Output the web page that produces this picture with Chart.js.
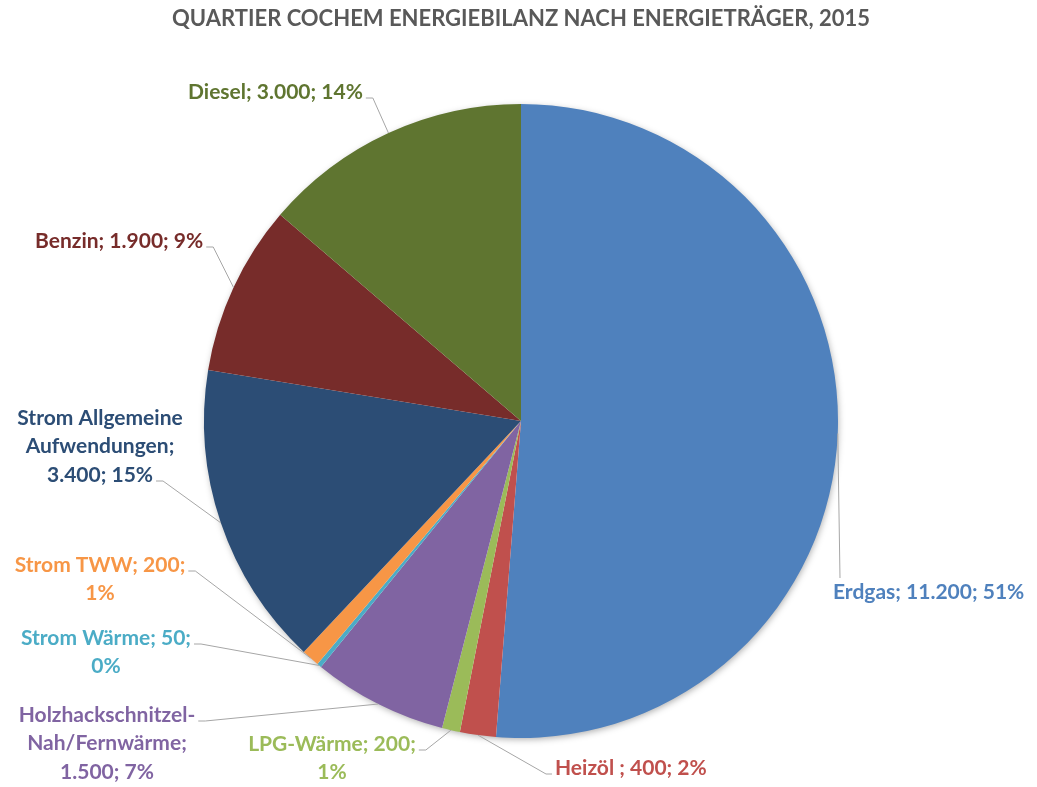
<!DOCTYPE html>
<html>
<head>
  <title>Quartier Cochem Energiebilanz 2015</title>
  <script src="https://cdn.jsdelivr.net/npm/chart.js"></script>
  <style>
    html, body { margin: 0; padding: 0; background: #ffffff; }
  </style>
</head>
<body>
  <canvas id="pieChart" width="1037" height="787"></canvas>

  <script>
    // Energieträger, im Uhrzeigersinn ab 12 Uhr
    const categories = [
      "Erdgas", "Heizöl ", "LPG-Wärme", "Holzhackschnitzel-Nah/Fernwärme",
      "Strom Wärme", "Strom TWW", "Strom Allgemeine Aufwendungen", "Benzin", "Diesel"
    ];
    const values = [11200, 400, 200, 1500, 50, 200, 3400, 1900, 3000];
    const percentLabels = [51, 2, 1, 7, 0, 1, 15, 9, 14];
    const colors = [
      "#4f81bd", "#c0504d", "#9bbb59", "#8064a2",
      "#4bacc6", "#f79646", "#2c4d75", "#772c2a", "#5f7530"
    ];

    // Position der Datenbeschriftungen (x/y = erste Zeile), Umbruch nach den genannten Stellen
    const labelLayout = [
      { x: 833, y: 592, align: "left",   attach: "top",   line: 0, breaks: [] },
      { x: 555, y: 768, align: "left",   attach: "left",  line: 0, breaks: [] },
      { x: 332, y: 744, align: "center", attach: "right", line: 0, breaks: ["200;"] },
      { x: 107, y: 715, align: "center", attach: "right", line: 0, breaks: ["schnitzel-", "wärme;"] },
      { x: 106, y: 638, align: "center", attach: "right", line: 0, breaks: ["50;"] },
      { x: 100, y: 565, align: "center", attach: "right", line: 0, breaks: ["200;"] },
      { x: 100, y: 418, align: "center", attach: "right", line: 2, breaks: ["Allgemeine", "Aufwendungen;"] },
      { x: 35,  y: 241, align: "left",   attach: "right", line: 0, breaks: [] },
      { x: 188, y: 92,  align: "left",   attach: "right", line: 0, breaks: [] }
    ];

    const labelFont = "bold 21px Lato";
    const lineHeight = 28.5;

    function formatDe(n) {
      return String(n).replace(/\B(?=(\d{3})+(?!\d))/g, ".");
    }

    function splitLines(text, breaks) {
      const lines = [];
      let rest = text;
      breaks.forEach(b => {
        const k = rest.indexOf(b);
        if (k >= 0) {
          lines.push(rest.slice(0, k + b.length).trim());
          rest = rest.slice(k + b.length);
        }
      });
      lines.push(rest.trim());
      return lines;
    }

    // weicher Schatten unter dem Kreis
    const pieShadow = {
      id: "pieShadow",
      beforeDatasetsDraw(chart) {
        const arc = chart.getDatasetMeta(0).data[0];
        if (!arc) return;
        const { x, y, outerRadius } = arc.getProps(["x", "y", "outerRadius"], true);
        const ctx = chart.ctx;
        ctx.save();
        ctx.shadowColor = "rgba(0,0,0,0.35)";
        ctx.shadowBlur = 7;
        ctx.shadowOffsetX = 1;
        ctx.shadowOffsetY = 2;
        ctx.fillStyle = "#ffffff";
        ctx.beginPath();
        ctx.arc(x, y, outerRadius - 1, 0, Math.PI * 2);
        ctx.fill();
        ctx.restore();
      }
    };

    // Beschriftungen mit Führungslinien
    const outsideLabels = {
      id: "outsideLabels",
      afterDatasetsDraw(chart) {
        const ctx = chart.ctx;
        const meta = chart.getDatasetMeta(0);
        ctx.save();
        ctx.font = labelFont;
        ctx.textBaseline = "middle";
        meta.data.forEach((arc, i) => {
          const p = arc.getProps(["x", "y", "startAngle", "endAngle", "outerRadius"], true);
          const mid = (p.startAngle + p.endAngle) / 2;
          const ax = p.x + Math.cos(mid) * p.outerRadius;
          const ay = p.y + Math.sin(mid) * p.outerRadius;

          const lay = labelLayout[i];
          const text = categories[i] + "; " + formatDe(values[i]) + "; " + percentLabels[i] + "%";
          const lines = splitLines(text, lay.breaks);

          // Führungslinie
          const ly = lay.y + lay.line * lineHeight;
          const w = ctx.measureText(lines[lay.line]).width;
          ctx.strokeStyle = "#a6a6a6";
          ctx.lineWidth = 1;
          ctx.beginPath();
          if (lay.attach === "right") {
            const ex = lay.align === "center" ? lay.x + w / 2 : lay.x + w;
            ctx.moveTo(ex + 3, ly + 6);
            ctx.lineTo(ex + 10, ly + 6);
          } else if (lay.attach === "left") {
            ctx.moveTo(lay.x - 3, ly + 6);
            ctx.lineTo(lay.x - 9, ly + 6);
          } else {
            ctx.moveTo(lay.x + 7, ly - 14);
          }
          ctx.lineTo(ax, ay);
          ctx.stroke();

          // Text
          ctx.fillStyle = colors[i];
          ctx.textAlign = lay.align;
          lines.forEach((ln, k) => ctx.fillText(ln, lay.x, lay.y + k * lineHeight));
        });
        ctx.restore();
      }
    };

    new Chart(document.getElementById("pieChart").getContext("2d"), {
      type: "pie",
      data: {
        labels: categories,
        datasets: [{
          data: values,
          backgroundColor: colors,
          borderWidth: 0
        }]
      },
      options: {
        responsive: false,
        animation: false,
        layout: { padding: { top: 0, bottom: 49, left: 10, right: 5 } },
        plugins: {
          legend: { display: false },
          tooltip: { enabled: false },
          title: {
            display: true,
            text: "QUARTIER COCHEM ENERGIEBILANZ NACH ENERGIETRÄGER, 2015",
            color: "#595959",
            font: { family: "Lato", size: 22, weight: "bold" },
            padding: { top: 6, bottom: 71.6 }
          }
        }
      },
      plugins: [pieShadow, outsideLabels]
    });
  </script>
</body>
</html>
